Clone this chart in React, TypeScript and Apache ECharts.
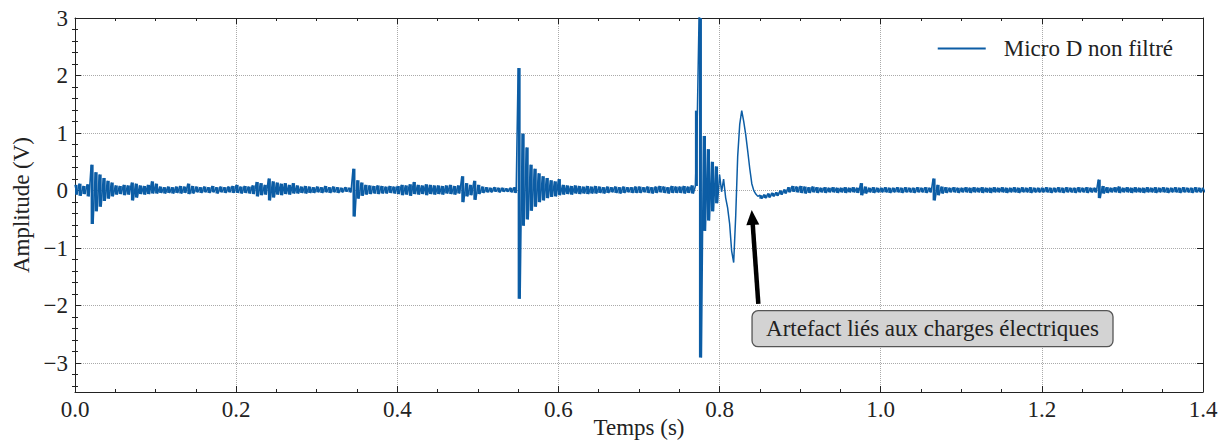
import React, { useEffect, useRef } from "react";
import * as echarts from "echarts";

// Signal sampled in 5 ms bins starting at t = 0 s.
// In each bin, valA is plotted at the bin start and valB half a bin later
// (extremes of the noise, or two consecutive samples where the signal is smooth).
const BIN_START = 0;
const BIN_STEP = 0.005;

const valA: number[] = [
  0.10, 0.12, 0.08, 0.11, 0.45, 0.32, 0.28, 0.22, 0.17, 0.14,
  0.09, 0.08, 0.10, 0.09, 0.14, 0.12, 0.09, 0.08, 0.10, 0.16,
  0.12, 0.07, 0.06, 0.07, 0.06, 0.07, 0.08, 0.07, 0.12, 0.08,
  0.07, 0.06, 0.07, 0.06, 0.08, 0.06, 0.07, 0.06, 0.07, 0.08,
  0.10, 0.07, 0.08, 0.07, 0.09, 0.15, 0.13, 0.10, 0.21, 0.16,
  0.14, 0.12, 0.13, 0.10, 0.13, 0.09, 0.07, 0.08, 0.07, 0.06,
  0.07, 0.06, 0.08, 0.06, 0.07, 0.06, 0.05, 0.06, 0.05, 0.38,
  0.18, 0.14, 0.10, 0.09, 0.08, 0.09, 0.08, 0.07, 0.08, 0.07,
  0.08, 0.10, 0.09, 0.11, 0.15, 0.10, 0.09, 0.11, 0.10, 0.09,
  0.09, 0.08, 0.09, 0.10, 0.08, 0.09, 0.25, 0.13, 0.10, 0.17,
  0.10, 0.07, 0.06, 0.05, 0.06, 0.05, 0.05, 0.04, 0.05, 0.06,
  2.13, 0.99, 0.75, 0.45, 0.38, 0.30, 0.25, 0.22, 0.18, 0.16,
  0.20, 0.10, 0.09, 0.08, 0.09, 0.08, 0.07, 0.08, 0.07, 0.08,
  0.07, 0.06, 0.07, 0.06, 0.07, 0.06, 0.07, 0.06, 0.06, 0.07,
  0.07, 0.06, 0.07, 0.06, 0.07, 0.08, 0.07, 0.06, 0.08, 0.07,
  0.07, 0.08, 0.07, 0.09, 0.08, 3.40, 0.95, 0.72, 0.50, 0.42,
  0.28, 0.20, -0.30, -1.05, -0.45, 1.15, 1.20, 0.68, 0.12, -0.06,
  -0.08, -0.07, -0.05, -0.04, -0.03, 0.00, 0.02, 0.06, 0.08, 0.07,
  0.08, 0.07, 0.06, 0.07, 0.06, 0.05, 0.06, 0.05, 0.06, 0.05,
  0.05, 0.06, 0.05, 0.06, 0.05, 0.13, 0.07, 0.05, 0.06, 0.05,
  0.05, 0.06, 0.05, 0.05, 0.06, 0.05, 0.06, 0.05, 0.05, 0.06,
  0.05, 0.06, 0.05, 0.21, 0.10, 0.07, 0.06, 0.05, 0.06, 0.05,
  0.05, 0.06, 0.05, 0.06, 0.05, 0.06, 0.05, 0.05, 0.06, 0.05,
  0.06, 0.05, 0.05, 0.06, 0.05, 0.06, 0.05, 0.06, 0.05, 0.05,
  0.05, 0.06, 0.05, 0.05, 0.06, 0.05, 0.06, 0.05, 0.05, 0.06,
  0.05, 0.06, 0.05, 0.05, 0.19, 0.08, 0.06, 0.05, 0.06, 0.07,
  0.05, 0.06, 0.05, 0.06, 0.05, 0.05, 0.06, 0.05, 0.06, 0.05,
  0.06, 0.05, 0.05, 0.06, 0.05, 0.06, 0.05, 0.05, 0.06, 0.05,
  0.05,
];

const valB: number[] = [
  -0.07, -0.09, -0.06, -0.10, -0.58, -0.36, -0.28, -0.18, -0.14, -0.10,
  -0.07, -0.06, -0.08, -0.07, -0.17, -0.12, -0.06, -0.07, -0.06, -0.05,
  -0.05, -0.04, -0.05, -0.04, -0.05, -0.04, -0.05, -0.04, -0.06, -0.05,
  -0.03, -0.04, -0.03, -0.04, -0.03, -0.05, -0.03, -0.04, -0.03, -0.04,
  -0.04, -0.05, -0.04, -0.05, -0.06, -0.10, -0.08, -0.07, -0.17, -0.12,
  -0.07, -0.08, -0.06, -0.07, -0.05, -0.05, -0.04, -0.05, -0.04, -0.04,
  -0.03, -0.04, -0.03, -0.04, -0.03, -0.04, -0.03, -0.02, -0.03, -0.45,
  -0.14, -0.09, -0.07, -0.06, -0.05, -0.06, -0.05, -0.05, -0.04, -0.05,
  -0.06, -0.08, -0.07, -0.09, -0.06, -0.07, -0.06, -0.08, -0.06, -0.07,
  -0.06, -0.07, -0.05, -0.06, -0.07, -0.05, -0.20, -0.10, -0.08, -0.16,
  -0.06, -0.04, -0.03, -0.03, -0.02, -0.03, -0.02, -0.02, -0.03, -0.04,
  -1.88, -0.61, -0.50, -0.35, -0.28, -0.20, -0.17, -0.13, -0.11, -0.10,
  -0.08, -0.07, -0.06, -0.07, -0.05, -0.06, -0.05, -0.06, -0.05, -0.05,
  -0.04, -0.05, -0.04, -0.03, -0.04, -0.05, -0.04, -0.03, -0.04, -0.04,
  -0.04, -0.03, -0.04, -0.05, -0.04, -0.03, -0.04, -0.05, -0.04, -0.04,
  -0.04, -0.05, -0.04, -0.05, 1.39, -2.90, -0.70, -0.52, -0.36, -0.22,
  -0.02, -0.12, -0.58, -1.25, 0.60, 1.39, 0.97, 0.38, 0.00, -0.10,
  -0.14, -0.13, -0.12, -0.10, -0.09, -0.07, -0.05, -0.03, -0.02, -0.03,
  -0.04, -0.05, -0.04, -0.03, -0.04, -0.03, -0.04, -0.03, -0.03, -0.04,
  -0.03, -0.04, -0.03, -0.03, -0.04, -0.08, -0.05, -0.03, -0.04, -0.03,
  -0.03, -0.03, -0.04, -0.03, -0.03, -0.04, -0.03, -0.03, -0.04, -0.03,
  -0.03, -0.04, -0.03, -0.17, -0.08, -0.05, -0.04, -0.03, -0.03, -0.04,
  -0.03, -0.03, -0.04, -0.03, -0.03, -0.04, -0.03, -0.04, -0.03, -0.03,
  -0.03, -0.04, -0.03, -0.03, -0.04, -0.03, -0.03, -0.04, -0.03, -0.03,
  -0.03, -0.03, -0.04, -0.03, -0.03, -0.04, -0.03, -0.03, -0.04, -0.03,
  -0.03, -0.04, -0.03, -0.03, -0.13, -0.05, -0.04, -0.03, -0.03, -0.04,
  -0.03, -0.03, -0.04, -0.03, -0.03, -0.04, -0.03, -0.03, -0.04, -0.03,
  -0.03, -0.04, -0.03, -0.03, -0.04, -0.03, -0.03, -0.04, -0.03, -0.03,
  -0.03,
];

// Time span of the smooth electrical artefact (no noise fill drawn there).
const SMOOTH_START = 0.8;
const SMOOTH_END = 0.85;

const xTicks = [0, 0.2, 0.4, 0.6, 0.8, 1.0, 1.2, 1.4];
const yTicks = [-3, -2, -1, 0, 1, 2, 3];
const yMinorTicks = [
  -3.4, -3.2, -2.8, -2.6, -2.4, -2.2, -1.8, -1.6, -1.4, -1.2, -0.8, -0.6, -0.4, -0.2,
  0.2, 0.4, 0.6, 0.8, 1.2, 1.4, 1.6, 1.8, 2.2, 2.4, 2.6, 2.8,
];
const X_MIN = 0;
const X_MAX = 1.4;
const Y_MIN = -3.5;
const Y_MAX = 3;

const SERIES_NAME = "Micro D non filtré";
const ANNOT_TEXT = "Artefact liés aux charges électriques";
const arrowTip = [0.8399, -0.336];
const arrowTail = [0.8481, -1.97];
const boxTopLeft = [0.8403, -2.087];
const boxBottomRight = [1.2883, -2.713];

const FONT = "Liberation Serif, DejaVu Serif, serif";
const FONT_SIZE = 23;
const TEXT_COLOR = "#222";
const LINE_COLOR = "#0C5DA5";

export default function App() {
  const ref = useRef<HTMLDivElement>(null);

  useEffect(() => {
    if (!ref.current) return;
    const chart = echarts.init(ref.current, undefined, { renderer: "svg" });

    const points: number[][] = [];
    const noiseFill: number[][] = [];
    for (let i = 0; i < valA.length; i++) {
      const t = BIN_START + i * BIN_STEP;
      points.push([t, valA[i]]);
      points.push([t + BIN_STEP / 2, valB[i]]);
      const smooth = t >= SMOOTH_START - 1e-9 && t < SMOOTH_END - 1e-9;
      if (!smooth) {
        noiseFill.push([t, Math.min(valA[i], valB[i]), Math.max(valA[i], valB[i])]);
      }
    }

    const minus = (v: any) => String(v).replace("-", "\u2212");

    const axisLineStyle = { color: TEXT_COLOR, width: 1 };
    const xBase = {
      type: "value" as const,
      min: X_MIN,
      max: X_MAX,
      interval: 0.2,
      axisLine: { show: true, onZero: false, lineStyle: axisLineStyle },
      axisTick: { show: true, inside: true, length: 6, lineStyle: axisLineStyle },
      minorTick: { show: true, splitNumber: 4, length: 3, lineStyle: axisLineStyle },
    };

    const yMajorBase = {
      type: "value" as const,
      min: Y_MIN,
      max: Y_MAX,
      axisLine: { show: true, onZero: false, lineStyle: axisLineStyle },
      axisTick: { show: true, inside: true, length: 6, customValues: yTicks, lineStyle: axisLineStyle },
    };
    const yMinorBase = {
      type: "value" as const,
      min: Y_MIN,
      max: Y_MAX,
      axisLine: { show: false },
      axisLabel: { show: false },
      splitLine: { show: false },
      axisTick: { show: true, inside: true, length: 3, customValues: yMinorTicks, lineStyle: axisLineStyle },
    };

    const labelStyle = { fontFamily: FONT, fontSize: FONT_SIZE, color: TEXT_COLOR };

    chart.setOption({
      animation: false,
      backgroundColor: "#ffffff",
      textStyle: { fontFamily: FONT },
      grid: {
        left: 75,
        right: 20,
        top: 18,
        bottom: 56,
        containLabel: false,
        outerBoundsMode: "none",
      },
      legend: {
        data: [{ name: SERIES_NAME, icon: "rect" }],
        right: 45,
        top: 32,
        itemWidth: 48,
        itemHeight: 2,
        textStyle: { ...labelStyle, padding: [0, 0, 0, 13] },
      },
      xAxis: [
        {
          ...xBase,
          position: "bottom",
          name: "Temps (s)",
          nameLocation: "middle",
          nameGap: 24,
          nameMoveOverlap: false,
          nameTextStyle: labelStyle,
          axisLabel: {
            show: true,
            margin: 6,
            ...labelStyle,
            customValues: xTicks,
            formatter: (v: number) => v.toFixed(1),
          },
          splitLine: { show: true, lineStyle: { type: "dotted", color: "#aaaaaa", width: 1 } },
        },
        {
          ...xBase,
          position: "top",
          axisLabel: { show: false },
          splitLine: { show: false },
        },
      ],
      yAxis: [
        {
          ...yMajorBase,
          position: "left",
          name: "Amplitude (V)",
          nameLocation: "middle",
          nameRotate: 90,
          nameGap: 40,
          nameTextStyle: labelStyle,
          axisLabel: {
            show: true,
            margin: 7,
            ...labelStyle,
            customValues: yTicks,
            formatter: minus,
          },
          splitLine: { show: true, lineStyle: { type: "dotted", color: "#aaaaaa", width: 1 } },
        },
        {
          ...yMajorBase,
          position: "right",
          axisLabel: { show: false },
          splitLine: { show: false },
        },
        { ...yMinorBase, position: "left" },
        { ...yMinorBase, position: "right" },
      ],
      series: [
        {
          name: "noiseFill",
          type: "custom",
          xAxisIndex: 0,
          yAxisIndex: 0,
          data: noiseFill,
          silent: true,
          z: 2,
          renderItem: (params: any, api: any) => {
            const t = api.value(0);
            const p1 = api.coord([t - BIN_STEP / 8, api.value(2)]);
            const p2 = api.coord([t + (BIN_STEP * 5) / 8, api.value(1)]);
            const shape = echarts.graphic.clipRectByRect(
              { x: p1[0], y: p1[1], width: p2[0] - p1[0], height: p2[1] - p1[1] },
              params.coordSys
            );
            if (!shape) return null;
            return { type: "rect", shape, style: { fill: LINE_COLOR } };
          },
        },
        {
          name: SERIES_NAME,
          type: "line",
          xAxisIndex: 0,
          yAxisIndex: 0,
          data: points,
          symbol: "none",
          showSymbol: false,
          clip: true,
          color: LINE_COLOR,
          lineStyle: { color: LINE_COLOR, width: 1.5, join: "bevel" },
          emphasis: { disabled: true },
          z: 3,
        },
      ],
    });

    const px = (p: number[]) =>
      chart.convertToPixel({ xAxisIndex: 0, yAxisIndex: 0 }, p) as number[];
    const tip = px(arrowTip);
    const tail = px(arrowTail);
    const dx = tip[0] - tail[0];
    const dy = tip[1] - tail[1];
    const len = Math.sqrt(dx * dx + dy * dy);
    const ux = dx / len;
    const uy = dy / len;
    const headLen = 15;
    const headHalf = 6.5;
    const base = [tip[0] - ux * headLen, tip[1] - uy * headLen];
    const nx = -uy;
    const ny = ux;
    const b1 = px(boxTopLeft);
    const b2 = px(boxBottomRight);

    chart.setOption({
      graphic: [
        {
          type: "line",
          z: 100,
          shape: { x1: tail[0], y1: tail[1], x2: base[0] + ux, y2: base[1] + uy },
          style: { stroke: "#000", lineWidth: 4.5 },
          silent: true,
        },
        {
          type: "polygon",
          z: 100,
          shape: {
            points: [
              [tip[0], tip[1]],
              [base[0] + nx * headHalf, base[1] + ny * headHalf],
              [base[0] - nx * headHalf, base[1] - ny * headHalf],
            ],
          },
          style: { fill: "#000" },
          silent: true,
        },
        {
          type: "rect",
          z: 100,
          shape: { x: b1[0], y: b1[1], width: b2[0] - b1[0], height: b2[1] - b1[1], r: 6 },
          style: { fill: "#d3d3d3", stroke: "#555", lineWidth: 1.3 },
          silent: true,
        },
        {
          type: "text",
          z: 101,
          x: (b1[0] + b2[0]) / 2,
          y: (b1[1] + b2[1]) / 2,
          style: {
            text: ANNOT_TEXT,
            fontFamily: FONT,
            fontSize: FONT_SIZE,
            fill: TEXT_COLOR,
            align: "center",
            verticalAlign: "middle",
          },
          silent: true,
        },
      ],
    });

    return () => chart.dispose();
  }, []);

  return (
    <div
      ref={ref}
      style={{ position: "fixed", left: 0, top: 0, width: 1223, height: 448, background: "#fff" }}
    />
  );
}
